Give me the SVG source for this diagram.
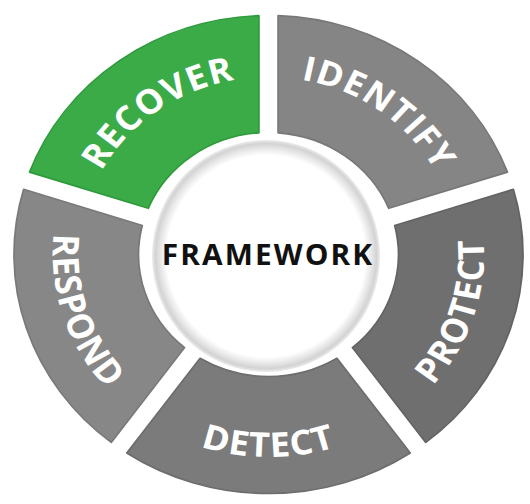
<svg xmlns="http://www.w3.org/2000/svg" xmlns:xlink="http://www.w3.org/1999/xlink" width="530" height="504" viewBox="0 0 530 504">
  <style>
    .seg { stroke-width: 1.6; stroke-linejoin: round; }
    .lbl { font-family: "Open Sans", "Liberation Sans", sans-serif; font-weight: 700; font-size: 34px; fill: #ffffff; letter-spacing: 1px; }
    .center { font-family: "Open Sans", "Liberation Sans", sans-serif; font-weight: 700; font-size: 28px; fill: #111111; letter-spacing: 2px; }
  </style>
  <defs>
    <path id="segShape" d="M198.51,-133.09 A239,239 0 0 1 198.51,133.09 L103.72,64.24 A122,122 0 0 0 103.72,-64.24 Z"/>
    <path id="arcOut" d="M-153.72,-88.75 A177.5,177.5 0 0 1 153.72,-88.75"/>
    <path id="arcIn" d="M-175.37,101.25 A202.5,202.5 0 0 0 175.37,101.25"/>
    <radialGradient id="hubGrad" cx="0.5" cy="0.5" r="0.5">
      <stop offset="0" stop-color="#ffffff"/>
      <stop offset="0.87" stop-color="#ffffff"/>
      <stop offset="0.93" stop-color="#e6e6e6"/>
      <stop offset="0.97" stop-color="#d3d3d3"/>
      <stop offset="1" stop-color="#ececec"/>
    </radialGradient>
  </defs>
  <rect width="530" height="504" fill="#ffffff"/>
  <g transform="translate(268.5,254.5) scale(1.065,1)">
    <g id="recover">
      <use href="#segShape" class="seg" transform="rotate(-126)" fill="#3bab48" stroke="#2f9a3c"/>
      <g transform="rotate(-36)"><text class="lbl"><textPath href="#arcOut" startOffset="50%" text-anchor="middle">RECOVER</textPath></text></g>
    </g>
    <g id="identify">
      <use href="#segShape" class="seg" transform="rotate(-54)" fill="#858585" stroke="#777777"/>
      <g transform="rotate(36)"><text class="lbl"><textPath href="#arcOut" startOffset="50%" text-anchor="middle">IDENTIFY</textPath></text></g>
    </g>
    <g id="protect">
      <use href="#segShape" class="seg" transform="rotate(18)" fill="#6f6f6f" stroke="#636363"/>
      <g transform="rotate(-72)"><text class="lbl"><textPath href="#arcIn" startOffset="50%" text-anchor="middle">PROTECT</textPath></text></g>
    </g>
    <g id="detect">
      <use href="#segShape" class="seg" transform="rotate(90)" fill="#7b7b7b" stroke="#6d6d6d"/>
      <g><text class="lbl"><textPath href="#arcIn" startOffset="50%" text-anchor="middle">DETECT</textPath></text></g>
    </g>
    <g id="respond">
      <use href="#segShape" class="seg" transform="rotate(162)" fill="#878787" stroke="#797979"/>
      <g transform="rotate(72)"><text class="lbl"><textPath href="#arcIn" startOffset="50%" text-anchor="middle">RESPOND</textPath></text></g>
    </g>
  </g>
  <g id="framework">
    <ellipse cx="266" cy="256" rx="114" ry="116" fill="url(#hubGrad)"/>
    <text class="center" x="268" y="265" text-anchor="middle" transform="translate(268,0) scale(1.065,1) translate(-268,0)">FRAMEWORK</text>
  </g>
</svg>
